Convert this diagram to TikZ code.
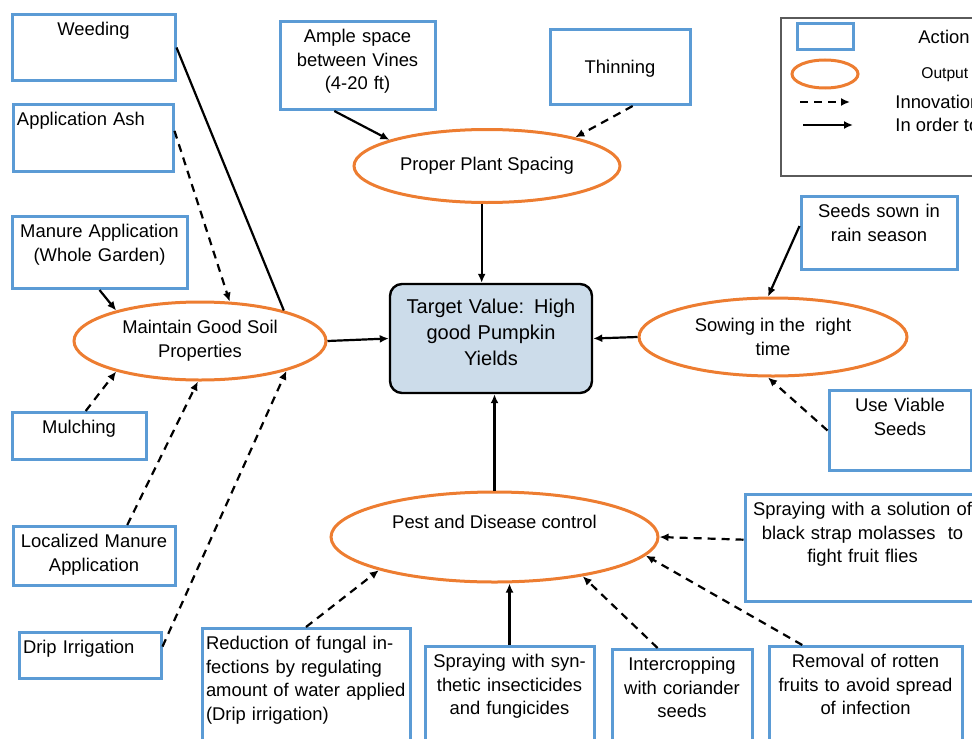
\documentclass[tikz,border=0pt]{standalone}
\usepackage{fontspec}
\setmainfont{Liberation Sans}
\usetikzlibrary{shapes.geometric, arrows.meta}

\definecolor{actblue}{HTML}{5B9BD5}
\definecolor{outorange}{HTML}{ED7D31}
\definecolor{goalfill}{HTML}{CCDCEA}
\definecolor{legendgray}{HTML}{5A5A5A}

\newcommand{\boxfont}{\fontsize{9.2}{11.8}\selectfont}
\newcommand{\goalfont}{\fontsize{10}{13}\selectfont}

\tikzset{
  >={Latex[length=4.5pt, width=4pt]},
  action/.style={draw=actblue, line width=1.5pt, align=center, anchor=north,
    inner xsep=2pt, inner ysep=4pt, text height=6.6pt, font=\boxfont},
  output/.style={ellipse, draw=outorange, line width=1.5pt, align=center,
    inner sep=0pt, font=\boxfont},
  goal/.style={draw=black, fill=goalfill, rounded corners=6pt, line width=1.2pt,
    align=center, font=\goalfont},
  legtext/.style={anchor=west, inner sep=0pt, font=\boxfont},
  link/.style={line width=1.1pt},
  inorder/.style={link, ->},
  innov/.style={link, ->, dash pattern=on 4pt off 3pt}
}

\begin{document}
\begin{tikzpicture}[x=0.5pt, y=-0.5pt]
  \useasboundingbox (0,0) rectangle (972,738);
  \clip (0,0) rectangle (972,738);

  \node[action, text width=77.5pt, text depth=18.4pt] (weed) at (93.5,13) {Weeding};
  \node[action, text width=76pt, text depth=18.9pt, align=left] (ash) at (93,103) {Application Ash};
  \node[action, text width=83.5pt, text depth=21.4pt] (manure) at (99.5,215) {Manure Application\\(Whole Garden)};
  \node[action, text width=63pt, text depth=8.9pt] (mulch) at (79,411) {Mulching};
  \node[action, text width=77pt, text depth=14.9pt] (local) at (94,525) {Localized Manure\\Application};
  \node[action, text width=67pt, text depth=8.4pt, align=left] (drip) at (90,631) {Drip Irrigation};
  \node[action, text width=73.5pt, text depth=29.4pt] (ample) at (357.5,20) {Ample space\\between Vines\\(4-20 ft)};
  \node[action, text width=66pt, text height=18pt, text depth=11.5pt] (thin) at (620,28) {Thinning};
  \node[action, text width=74pt, text depth=21.9pt] (seeds) at (879,195) {Seeds sown in\\rain season};
  \node[action, text width=67pt, text depth=25.4pt] (viable) at (900,389) {Use Viable\\Seeds};
  \node[action, text width=113.5pt, text depth=38.9pt] (molasses) at (862.5,493) {Spraying with a solution of\\black strap molasses\ \ to\\fight fruit flies};
  \node[action, text width=100pt, text depth=51.9pt, align=left] (reduce) at (306,627) {Reduction of fungal in-\\fections by regulating\\amount of water applied\\(Drip irrigation)};
  \node[action, text width=80.5pt, text depth=42.9pt] (synth) at (509.5,645) {Spraying with syn-\\thetic insecticides\\and fungicides};
  \node[action, text width=66pt, text depth=41.4pt] (inter) at (682,648) {Intercropping\\with coriander\\seeds};
  \node[action, text width=92.5pt, text depth=42.9pt] (removal) at (865.5,645) {Removal of rotten\\fruits to avoid spread\\of infection};

  \node[output, minimum width=133pt, minimum height=36.5pt] (proper) at (487,166) {Proper Plant Spacing};
  \node[output, minimum width=126pt, minimum height=39pt] (soil) at (200,341) {Maintain Good Soil\\Properties};
  \node[output, minimum width=134pt, minimum height=39pt] (sow) at (773,337) {Sowing in the\ \ right\\time};
  \node[output, minimum width=163.5pt, minimum height=45pt, text height=6.6pt, text depth=15.5pt] (pest) at (494.5,537) {Pest and Disease control};

  \node[goal, text width=90pt, minimum width=101pt, minimum height=54.5pt, text height=7.2pt, text depth=32pt] (target) at (491,338.5) {Target Value: High\\good Pumpkin\\Yields};

  \draw[link] (weed.east) -- (soil.20);
  \draw[innov] (ash.5) -- (soil.53);
  \draw[inorder] (manure.south) -- (soil.160);
  \draw[innov] (mulch.75) -- (soil.200);
  \draw[innov] (local.43) -- (soil.-93);
  \draw[innov] (drip.7) -- (soil.-19);
  \draw[inorder] (soil.east) -- (target.west);
  \draw[inorder] (ample.-117) -- (proper.165);
  \draw[innov] (thin.-72) -- (proper.18);
  \draw[inorder] (proper.-98) -- (proper.-98 |- target.north);
  \draw[inorder] (seeds.175) -- (sow.97);
  \draw[inorder] (sow.west) -- (target.east);
  \draw[innov] (viable.west) -- (sow.-97);
  \draw[inorder] (pest.north) -- (pest.north |- target.south);
  \draw[innov] (molasses.176) -- (pest.east);
  \draw[innov] (removal.137) -- (pest.-7);
  \draw[innov] (inter.113) -- (pest.-24);
  \draw[inorder] (synth.north) -- (synth.north |- pest.south);
  \draw[innov] (reduce.north) -- (pest.196);

  \draw[legendgray, line width=0.75pt] (781,18) rectangle (995,176);
  \node[draw=actblue, line width=1.5pt, minimum width=28pt, minimum height=13pt] (legact) at (825,37) {};
  \node[ellipse, draw=outorange, line width=1.5pt, minimum width=33pt, minimum height=14pt] (legout) at (825,74) {};
  \coordinate (innovA) at (800,102);
  \coordinate (innovB) at (850,102);
  \coordinate (orderA) at (803,125);
  \coordinate (orderB) at (853,125);
  \draw[innov] (innovA) -- (innovB);
  \draw[inorder] (orderA) -- (orderB);
  \node[legtext] (legacttext) at (918,37) {Action};
  \node[legtext, font=\fontsize{7.8}{9}\selectfont] (legouttext) at (921,75) {Output};
  \node[legtext] (leginnovtext) at (895,102) {Innovation};
  \node[legtext] (legordertext) at (895,125) {In order to};
\end{tikzpicture}
\end{document}
